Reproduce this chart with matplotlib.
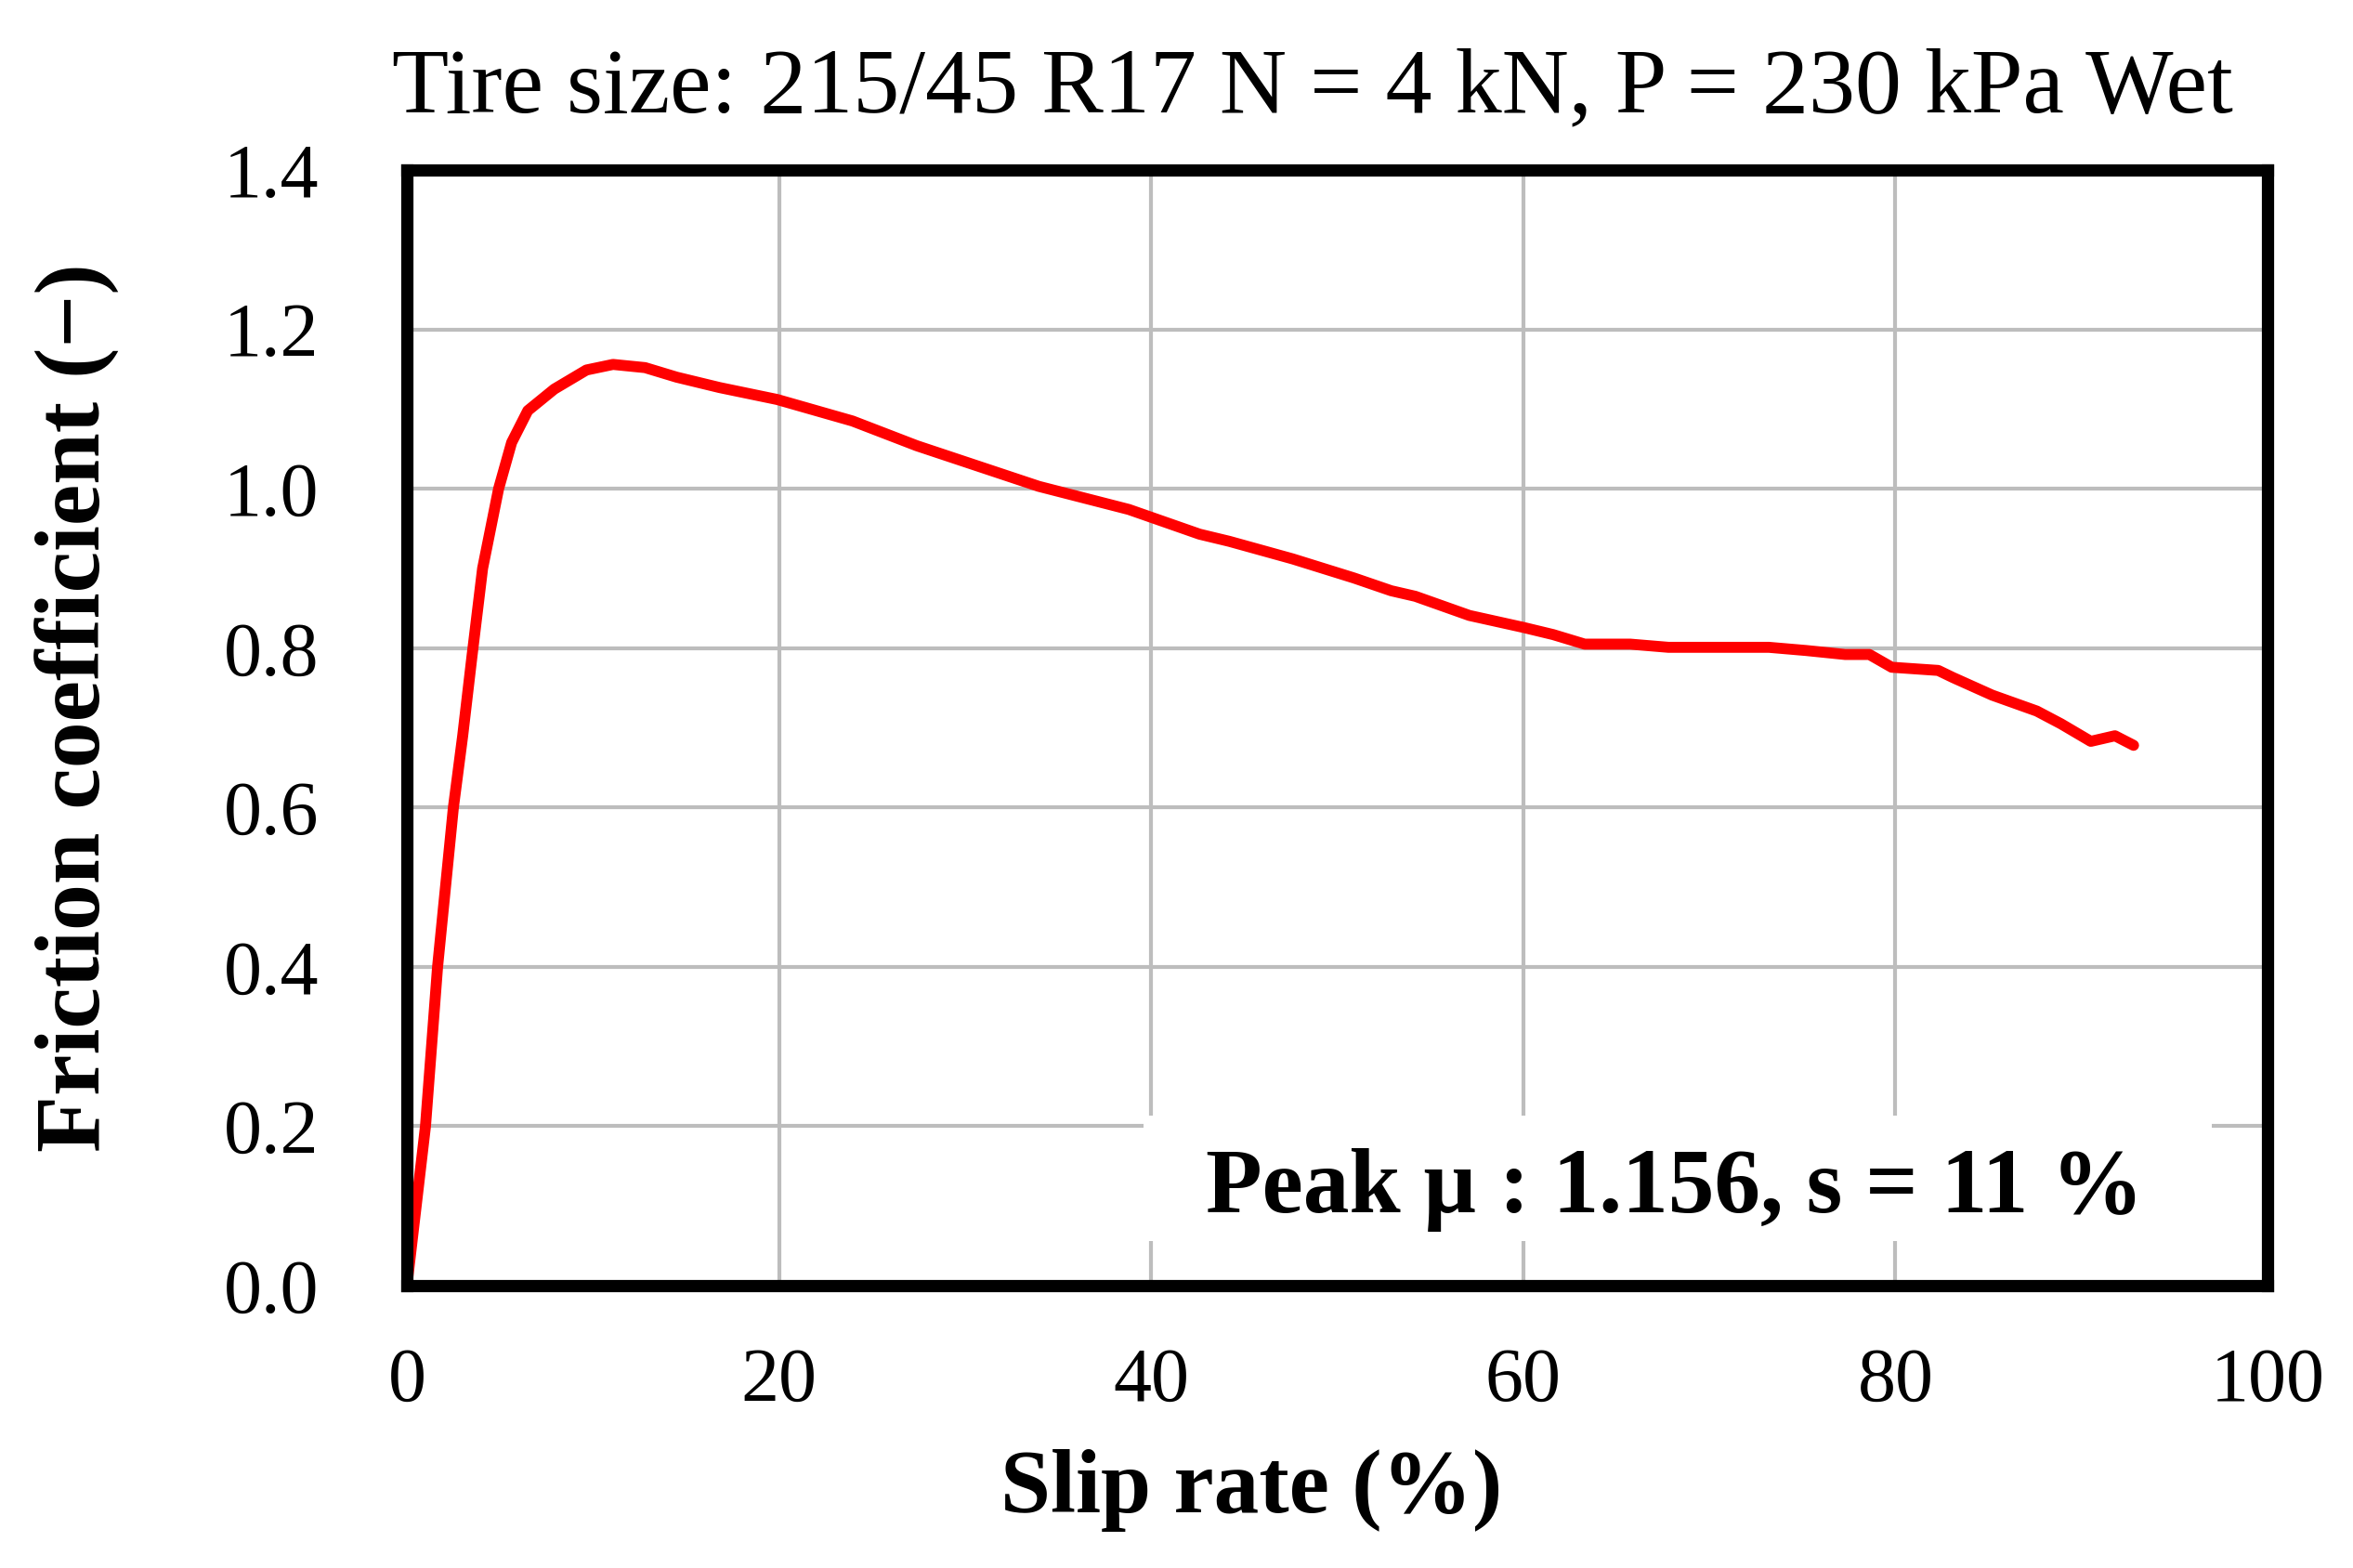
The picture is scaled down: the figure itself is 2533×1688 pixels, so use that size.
import matplotlib
matplotlib.use("Agg")
import matplotlib.pyplot as plt
from matplotlib.patches import Rectangle

slip = [0, 1.0, 1.65, 2.5, 3.0, 3.5, 4.07, 4.93, 5.63, 6.5, 7.92, 9.65, 11.08, 12.8,
        14.5, 16.8, 19.9, 23.95, 27.4, 33.96, 38.8, 42.6, 44.2, 47.6, 50.9, 52.9,
        54.2, 57.1, 60.0, 61.6, 63.3, 65.75, 67.8, 73.2, 75.2, 77.3, 78.6, 79.8,
        82.3, 83.1, 85.2, 87.6, 88.9, 90.5, 91.8, 92.8]
mu = [0, 0.20, 0.40, 0.60, 0.69, 0.79, 0.90, 1.00, 1.058, 1.098, 1.125, 1.149, 1.156,
      1.152, 1.140, 1.127, 1.112, 1.085, 1.054, 1.003, 0.974, 0.943, 0.934, 0.912,
      0.888, 0.872, 0.865, 0.841, 0.826, 0.817, 0.805, 0.805, 0.801, 0.801, 0.797,
      0.792, 0.792, 0.776, 0.772, 0.763, 0.741, 0.721, 0.705, 0.683, 0.690, 0.678]

xticks = [0, 20, 40, 60, 80, 100]
yticks = [0.0, 0.2, 0.4, 0.6, 0.8, 1.0, 1.2, 1.4]
title = "Tire size: 215/45 R17 N = 4 kN, P = 230 kPa Wet"
xlabel = "Slip rate (%)"
ylabel = "Friction coefficient (\u2212)"
note = "Peak \u03bc : 1.156, s = 11 %"

plt.rcParams['font.family'] = ['Liberation Serif', 'DejaVu Serif']

W, H = 2533, 1688
fig = plt.figure(figsize=(W / 100, H / 100), dpi=100)
L, R, T, B = 438, 2441, 183, 1384
ax = fig.add_axes([L / W, 1 - B / H, (R - L) / W, (B - T) / H])

ax.plot(slip, mu, color='#ff0000', lw=8.5, solid_capstyle='round',
        solid_joinstyle='round', zorder=4, clip_on=False)
ax.set_xlim(0, 100)
ax.set_ylim(0, 1.4)
ax.set_xticks(xticks)
ax.set_yticks(yticks)
ax.set_xticklabels([str(v) for v in xticks])
ax.set_yticklabels([f"{v:.1f}" for v in yticks])
ax.tick_params(axis='both', length=0, labelsize=59)
ax.tick_params(axis='y', pad=68)
ax.tick_params(axis='x', pad=48)
ax.grid(True, color='#bdbdbd', lw=3)
ax.set_axisbelow(True)
for s in ax.spines.values():
    s.set_linewidth(9.5)
    s.set_color('black')
    s.set_zorder(5)
    s.set_capstyle('projecting')

ax.add_patch(Rectangle((0.396, 0.04), 0.574, 0.112, transform=ax.transAxes,
                       facecolor='white', edgecolor='none', zorder=2))
ax.text(0.6815, 0.066, note, transform=ax.transAxes, ha='center', va='baseline',
        fontsize=71.5, fontweight='bold', zorder=3)

fig.text(1413 / W, 1 - 120 / H, title, ha='center', va='baseline', fontsize=72)
fig.text(1347 / W, 1 - 1628 / H, xlabel, ha='center', va='baseline', fontsize=70,
         fontweight='bold')
fig.text(83 / W, 1 - 762 / H, ylabel, ha='center', va='center', rotation=90,
         fontsize=72, fontweight='bold')

fig.savefig('out.png', dpi=100, facecolor='white')
